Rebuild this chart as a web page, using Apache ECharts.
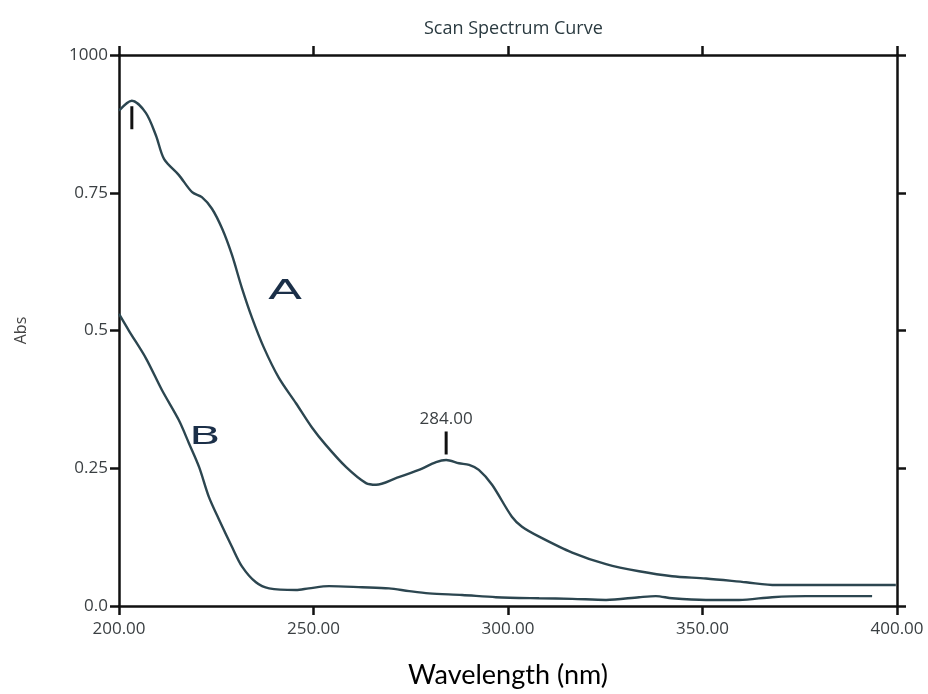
<!DOCTYPE html>
<html>
<head>
<meta charset="utf-8">
<title>Scan Spectrum Curve</title>
<script src="https://cdn.jsdelivr.net/npm/echarts@6/dist/echarts.min.js"></script>
<style>
  html, body { margin: 0; padding: 0; background: #fff; }
  #chart { width: 928px; height: 694px; }
</style>
</head>
<body>
<div id="chart"></div>
<script>
// values: [wavelength nm, absorbance]
const curveA = [
  [200.0, 0.899], [203.3, 0.917], [206.9, 0.895], [209.5, 0.854], [211.6, 0.811],
  [215.4, 0.782], [218.8, 0.751], [221.3, 0.742], [223.9, 0.721], [226.5, 0.685],
  [229.0, 0.638], [231.6, 0.577], [234.2, 0.523], [237.3, 0.468], [241.1, 0.414],
  [245.5, 0.368], [249.6, 0.324], [253.2, 0.292], [258.4, 0.252], [263.5, 0.223],
  [266.1, 0.220], [271.2, 0.232], [277.1, 0.247], [281.5, 0.261], [284.1, 0.265],
  [287.4, 0.259], [290.0, 0.256], [292.5, 0.247], [295.9, 0.220], [301.0, 0.162],
  [303.6, 0.144], [308.0, 0.126], [316.5, 0.097], [325.2, 0.076], [333.7, 0.063],
  [342.2, 0.054], [350.9, 0.050], [361.2, 0.043], [368.9, 0.038], [399.7, 0.038]
];
const curveB = [
  [200.0, 0.530], [202.6, 0.499], [206.9, 0.450], [211.1, 0.391], [215.4, 0.337],
  [218.0, 0.295], [220.6, 0.252], [223.1, 0.198], [225.7, 0.157], [229.0, 0.108],
  [231.6, 0.072], [235.2, 0.043], [238.6, 0.032], [245.5, 0.029], [248.8, 0.032],
  [254.0, 0.036], [262.5, 0.034], [269.4, 0.032], [274.6, 0.027], [279.7, 0.023],
  [288.2, 0.020], [296.9, 0.016], [308.0, 0.014], [316.5, 0.013], [325.2, 0.011],
  [333.7, 0.016], [338.0, 0.018], [342.2, 0.014], [350.9, 0.011], [359.4, 0.011],
  [367.9, 0.016], [376.6, 0.018], [393.6, 0.018]
];
const xTickLabels = ['200.00', '250.00', '300.00', '350.00', '400.00'];
const yTickLabels = ['0.0', '0.25', '0.5', '0.75', '1000'];
const peakFirst = [203.3, 0.917];
const peakMarked = [284.1, 0.265];
const peakLabel = '284.00';
const nameA = [242.7, 0.570];
const nameB = [222.1, 0.305];

const lineColor = '#2c4650';
const axisColor = '#111';
const labelColor = '#3a3f42';

const chart = echarts.init(document.getElementById('chart'));

const frame = {
  axisLine: { show: true, onZero: false, lineStyle: { color: axisColor, width: 2.5 } },
  axisTick: { show: true, inside: false, length: 9, lineStyle: { color: axisColor, width: 2.5 } },
  splitLine: { show: false }
};

chart.setOption({
  animation: false,
  backgroundColor: '#fff',
  title: {
    text: 'Scan Spectrum Curve',
    left: 419,
    top: 15,
    textStyle: { fontSize: 18, fontWeight: 'normal', color: '#2a3a40', fontFamily: 'Open Sans' }
  },
  grid: { left: 119, right: 31, top: 55, bottom: 88, outerBoundsMode: 'none' },
  xAxis: [
    Object.assign({
      type: 'value', position: 'bottom', min: 200, max: 400, interval: 50,
      name: 'Wavelength (nm)', nameLocation: 'middle', nameGap: 56,
      nameTextStyle: { fontSize: 27, color: '#000', fontFamily: 'Lato' },
      axisLabel: {
        margin: 15, fontSize: 17, color: labelColor, fontFamily: 'Open Sans',
        formatter: (v) => xTickLabels[Math.round((v - 200) / 50)]
      }
    }, frame),
    Object.assign({
      type: 'value', position: 'top', min: 200, max: 400, interval: 50,
      axisLabel: { show: false }
    }, frame)
  ],
  yAxis: [
    Object.assign({
      type: 'value', position: 'left', min: 0, max: 1, interval: 0.25,
      name: 'Abs', nameLocation: 'middle', nameGap: 90, nameRotate: 90,
      nameTextStyle: { fontSize: 16, color: '#444', fontFamily: 'Open Sans' },
      axisLabel: {
        margin: 11, fontSize: 17, color: labelColor, fontFamily: 'Open Sans',
        formatter: (v) => yTickLabels[Math.round(v / 0.25)]
      }
    }, frame),
    Object.assign({
      type: 'value', position: 'right', min: 0, max: 1, interval: 0.25,
      axisLabel: { show: false }
    }, frame)
  ],
  series: [
    {
      name: 'A', type: 'line', data: curveA, smooth: 0.3, showSymbol: false,
      lineStyle: { color: lineColor, width: 2.4 },
      markPoint: {
        symbol: 'rect',
        symbolSize: [3, 23],
        silent: true,
        itemStyle: { color: axisColor },
        label: { show: false },
        data: [
          { coord: peakFirst, symbolOffset: [0, 17] },
          {
            coord: peakMarked, symbolOffset: [0, -17],
            label: {
              show: true, position: 'top', distance: 4, formatter: peakLabel,
              color: labelColor, fontSize: 17, fontFamily: 'Open Sans'
            }
          }
        ]
      }
    },
    {
      name: 'B', type: 'line', data: curveB, smooth: 0.3, showSymbol: false,
      lineStyle: { color: lineColor, width: 2.4 }
    }
  ]
});

// big curve letters, anchored in data space
const letter = (txt, at, size) => {
  const p = chart.convertToPixel({ xAxisIndex: 0, yAxisIndex: 0 }, at);
  return {
    type: 'text', x: p[0], y: p[1], scaleX: 1.85, silent: true,
    style: { text: txt, fill: '#1b2f48', font: size + 'px "DejaVu Sans"', textAlign: 'center', textVerticalAlign: 'middle' }
  };
};
chart.setOption({ graphic: [letter('A', nameA, 27), letter('B', nameB, 25)] });
</script>
</body>
</html>
